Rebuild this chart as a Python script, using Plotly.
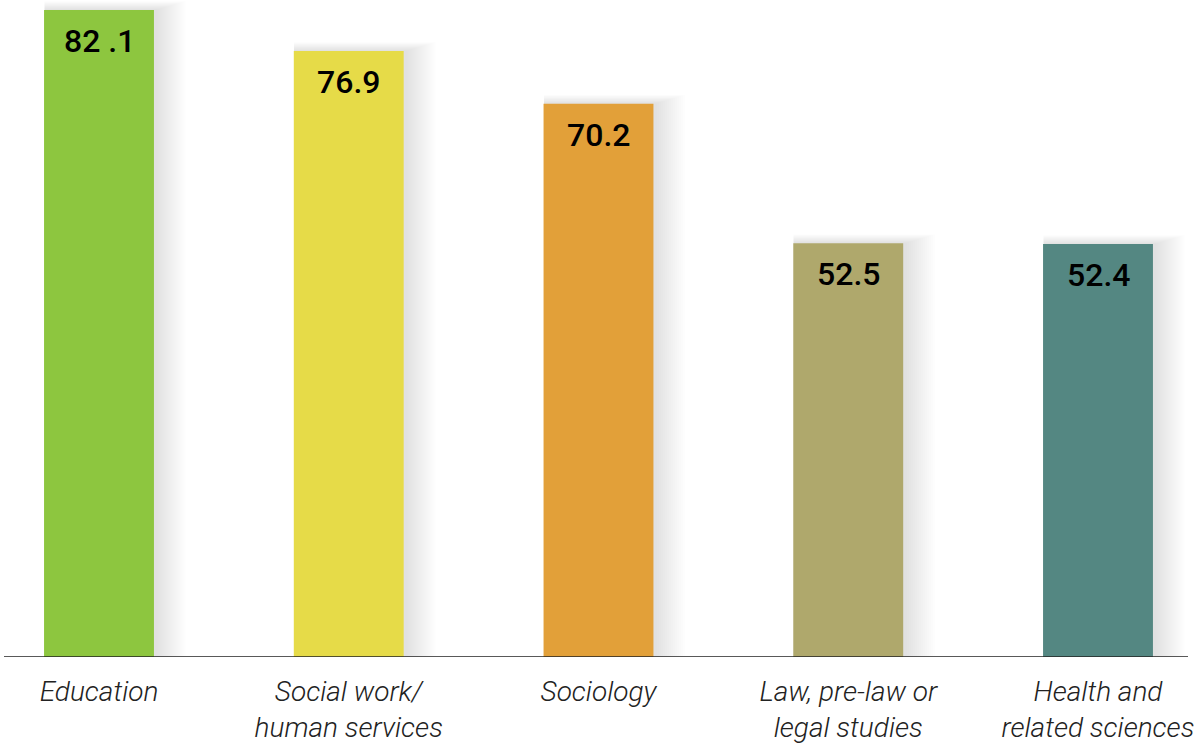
import plotly.graph_objects as go

categories = ["Education", "Social work/<br>human services", "Sociology",
              "Law, pre-law or<br>legal studies", "Health and<br>related sciences"]
values = [82.1, 76.9, 70.2, 52.5, 52.4]
value_labels = ["82 .1", "76.9", "70.2", "52.5", "52.4"]
colors = ["#8DC63F", "#E6DB48", "#E2A039", "#AFA86C", "#548782"]

W, H = 1201, 748
BAR_W = 0.44
PX_X = 249.75   # pixels per category
PX_Y = 7.88     # pixels per unit

fig = go.Figure()

# soft drop shadow layers
for s in range(2, 32, 2):
    fig.add_trace(go.Bar(
        x=categories, y=[v + (s * 0.3) / PX_Y for v in values],
        width=BAR_W + (s + 2) / PX_X,
        offset=-BAR_W / 2,
        marker=dict(color="rgba(0,0,0,0.007)", line=dict(width=0)),
        hoverinfo="skip", showlegend=False))

fig.add_trace(go.Bar(
    x=categories, y=values, width=BAR_W,
    marker=dict(color=colors, line=dict(width=0)),
    hoverinfo="skip", showlegend=False))

for c, v, t in zip(categories, values, value_labels):
    fig.add_annotation(x=c, y=v, text=t, showarrow=False, yanchor="top",
                       yshift=-10,
                       font=dict(family="Roboto", size=32, weight=500, color="#000"))

fig.add_shape(type="line", xref="paper", yref="y", x0=4 / W, x1=1188 / W,
              y0=0, y1=0, line=dict(color="#222", width=1.5))

fig.update_layout(
    width=W, height=H, barmode="overlay",
    margin=dict(l=0, r=0, t=0, b=91),
    plot_bgcolor="white", paper_bgcolor="white",
    xaxis=dict(range=[-99 / PX_X, 4 + 103 / PX_X], showgrid=False, zeroline=False,
               showline=False, ticks="", ticklabelstandoff=15,
               tickfont=dict(family="Roboto", size=28, weight=300, style="italic",
                             color="#222")),
    yaxis=dict(range=[0, 657 / PX_Y], visible=False, showgrid=False, zeroline=False),
)

fig.write_html("out.html")
